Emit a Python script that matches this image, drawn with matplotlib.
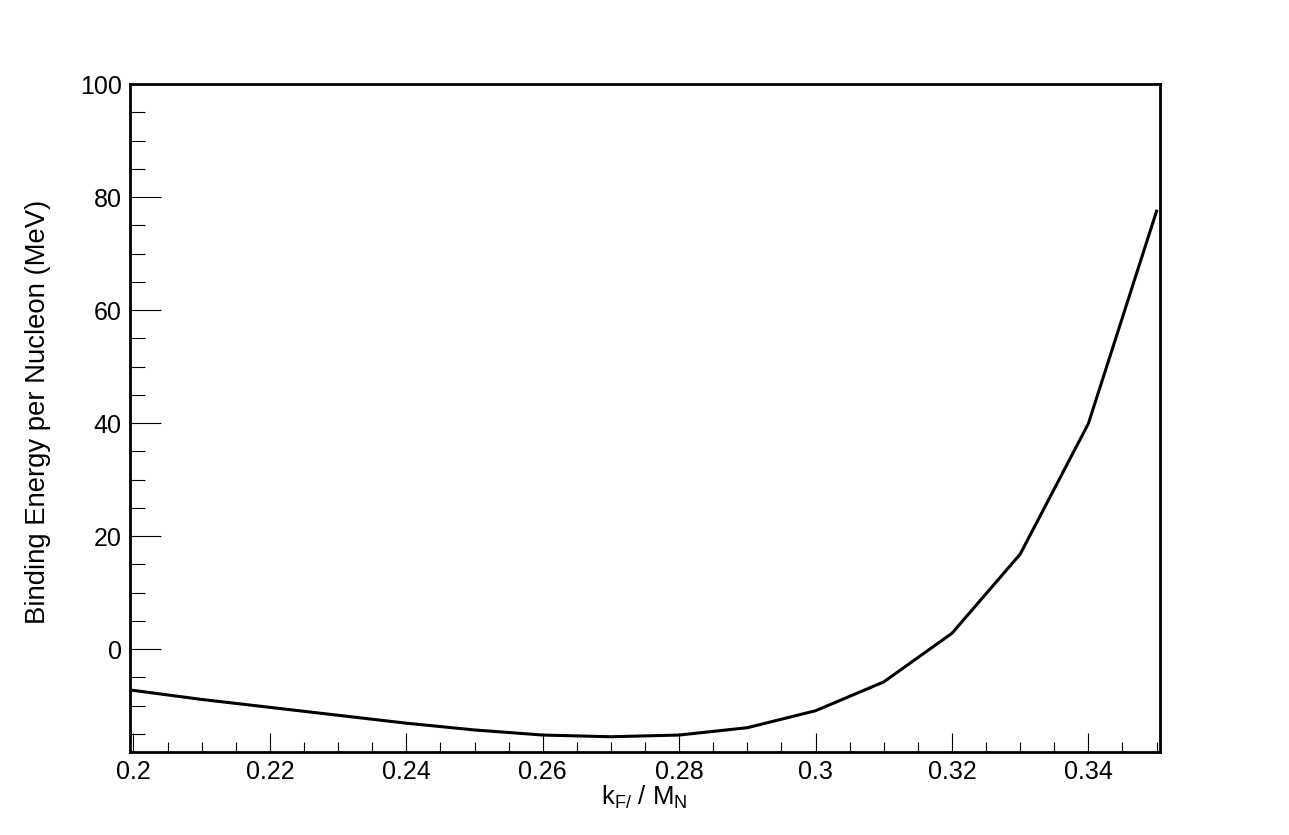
import matplotlib
matplotlib.use("Agg")
import matplotlib.pyplot as plt
from matplotlib.ticker import MultipleLocator, FuncFormatter

# ---------------------------------------------------------------
# Binding energy per nucleon vs k_F / M_N
# ---------------------------------------------------------------
kf_over_mn = [0.20, 0.21, 0.22, 0.23, 0.24, 0.25, 0.26, 0.27,
              0.28, 0.29, 0.30, 0.31, 0.32, 0.33, 0.34, 0.35]
binding_mev = [-7.3, -8.9, -10.3, -11.7, -13.1, -14.3, -15.2, -15.5,
               -15.2, -13.9, -10.9, -5.8, 2.8, 16.8, 39.9, 77.5]

X_LABEL = r"$\mathregular{k_{F/}}$ / $\mathregular{M_{N}}$"
Y_LABEL = "Binding Energy per Nucleon (MeV)"

plt.rcParams["font.family"] = ["Liberation Sans", "DejaVu Sans"]
plt.rcParams["mathtext.default"] = "regular"

fig = plt.figure(figsize=(12.89, 8.35), dpi=100)
ax = fig.add_axes([0.1009, 0.0994, 0.7990, 0.8000])

ax.plot(kf_over_mn, binding_mev, color="black", linewidth=2.2)

ax.set_xlim(0.1995, 0.3505)
ax.set_ylim(-18.2, 100)

ax.xaxis.set_major_locator(MultipleLocator(0.02))
ax.xaxis.set_minor_locator(MultipleLocator(0.005))
ax.yaxis.set_major_locator(MultipleLocator(20))
ax.yaxis.set_minor_locator(MultipleLocator(5))
ax.xaxis.set_major_formatter(FuncFormatter(lambda v, p: f"{v:g}"))
ax.yaxis.set_major_formatter(FuncFormatter(lambda v, p: f"{v:g}"))

ax.tick_params(axis="both", which="both", direction="in", top=False, right=False,
               width=0.8, labelsize=18)
ax.tick_params(axis="y", which="major", length=22, pad=6)
ax.tick_params(axis="y", which="minor", length=11)
ax.tick_params(axis="x", which="major", length=14, pad=6)
ax.tick_params(axis="x", which="minor", length=7)

for sp in ax.spines.values():
    sp.set_linewidth(2.0)

fig.text(644 / 1289, 1 - 797 / 835, X_LABEL, fontsize=18.5, ha="center", va="center")
fig.text(38 / 1289, 1 - 412 / 835, Y_LABEL, fontsize=19.8, ha="center", va="center",
         rotation=90)

fig.savefig("out.png", dpi=100)
